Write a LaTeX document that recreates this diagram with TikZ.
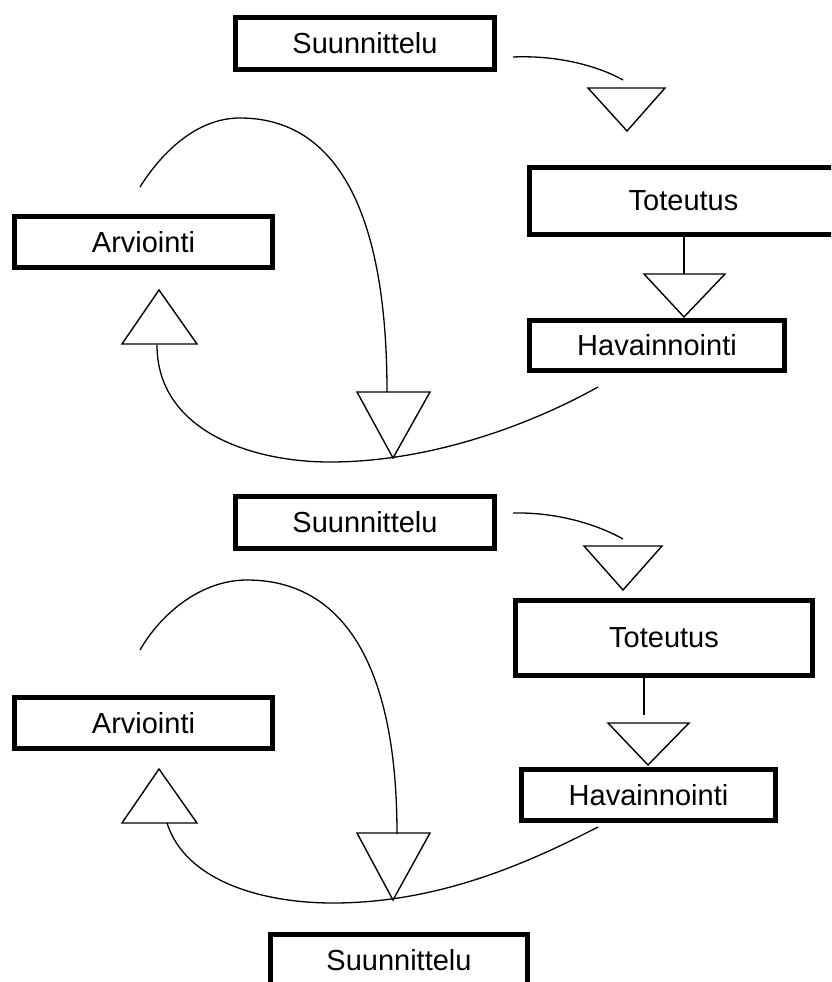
\documentclass[tikz,border=0pt]{standalone}
\usepackage{fontspec}
\setmainfont{Liberation Sans}
\usetikzlibrary{calc}

\begin{document}
\begin{tikzpicture}[x=1pt, y=-1pt,
    phase/.style={draw, line width=4.5pt, inner sep=0pt,
                  font=\fontsize{29}{34}\selectfont},
    tri/.style={draw, line width=1.4pt, line join=miter},
    flow/.style={line width=1.3pt}]

% Frame
\useasboundingbox (0,0) rectangle (831,982);
\clip (0,0) rectangle (831,982);

% ---------- first round ----------
\node[phase, minimum width=259pt, minimum height=52pt] (suun1) at (365,43.5) {Suunnittelu};
\node[phase, minimum width=308pt, minimum height=67pt] (tot1) at (683.5,201) {Toteutus};
\node[phase, minimum width=255pt, minimum height=50pt] (hav1) at (657,345.5) {Havainnointi};
\node[phase, minimum width=258pt, minimum height=51pt] (arv1) at (143.5,242) {Arviointi};

% Connector ends
\coordinate (s1out) at (513,57);
\coordinate (d1in) at (623,80);
\coordinate (d2in) at (684,274);
\coordinate (h1out) at (598,387);
\coordinate (u1in) at (157,345);
\coordinate (b1in) at (387,392);
\coordinate (l1end) at (140,187);

% Connectors
\draw[flow] (s1out) .. controls (560,55) and (600,67) .. (d1in);
\draw[flow] (tot1.south -| d2in) -- (d2in);
\draw[flow] (h1out) .. controls (530,425) and (430,462) .. (330,462)
                    .. controls (250,462) and (157,430) .. (u1in);
\draw[flow] (b1in) .. controls (387,200) and (330,118) .. (240,118)
                   .. controls (195,118) and (160,155) .. (l1end);

% Triangles
\draw[tri] (588,88) -- (665,88) -- (627,131) -- cycle;
\draw[tri] (644,274) -- (725,274) -- (684,317) -- cycle;
\draw[tri] (357,392) -- (430,392) -- (393,458) -- cycle;
\draw[tri] (122,344) -- (197,344) -- (159,290) -- cycle;

% ---------- second round ----------
\node[phase, minimum width=259pt, minimum height=52pt] (suun2) at (365,522.5) {Suunnittelu};
\node[phase, minimum width=297pt, minimum height=75pt] (tot2) at (664,638) {Toteutus};
\node[phase, minimum width=254pt, minimum height=51pt] (hav2) at (648.5,795) {Havainnointi};
\node[phase, minimum width=258pt, minimum height=51pt] (arv2) at (143.5,723) {Arviointi};

% Connector ends
\coordinate (s2out) at (513,513);
\coordinate (d3in) at (623,539);
\coordinate (d4in) at (644,715);
\coordinate (h2out) at (598,827);
\coordinate (u2in) at (167,823);
\coordinate (b2in) at (397,834);
\coordinate (l2end) at (140,650);

% Connectors
\draw[flow] (s2out) .. controls (560,512) and (600,526) .. (d3in);
\draw[flow] (tot2.south -| d4in) -- (d4in);
\draw[flow] (h2out) .. controls (530,862) and (440,903) .. (333,903)
                    .. controls (260,903) and (185,880) .. (u2in);
\draw[flow] (b2in) .. controls (397,660) and (340,580) .. (247,580)
                   .. controls (200,580) and (160,615) .. (l2end);

% Triangles
\draw[tri] (584,546) -- (662,546) -- (623,590) -- cycle;
\draw[tri] (608,723) -- (689,723) -- (648,765) -- cycle;
\draw[tri] (357,833) -- (430,833) -- (393,900) -- cycle;
\draw[tri] (122,823) -- (197,823) -- (159,769) -- cycle;

% ---------- next round ----------
\node[phase, minimum width=257pt, minimum height=52pt] (suun3) at (399,960.5) {Suunnittelu};

\end{tikzpicture}
\end{document}
